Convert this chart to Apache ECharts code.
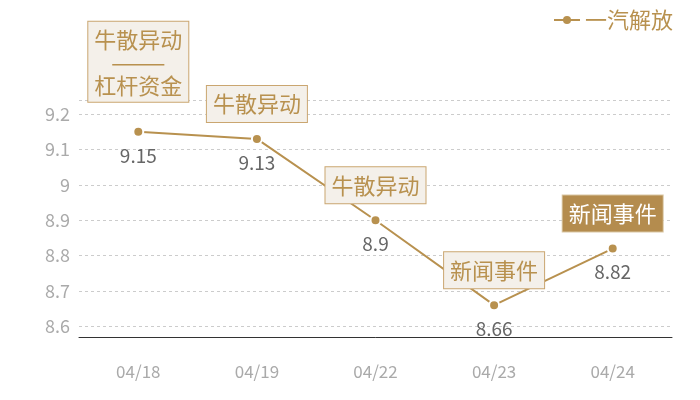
<!DOCTYPE html>
<html>
<head>
<meta charset="utf-8">
<script src="https://cdn.jsdelivr.net/npm/echarts@6/dist/echarts.min.js"></script>
<style>
  html, body { margin: 0; padding: 0; background: #fff; }
  #chart { width: 700px; height: 400px; }
</style>
</head>
<body>
<div id="chart"></div>
<script>
    // data
    var dates = ['04/18', '04/19', '04/22', '04/23', '04/24'];
    var prices = [9.15, 9.13, 8.9, 8.66, 8.82];
    var seriesName = '一汽解放';
    var eventTexts = ['牛散异动\n———\n杠杆资金', '牛散异动', '牛散异动', '新闻事件', '新闻事件'];
    var eventFilled = [false, false, false, false, true];

    var gold = '#b8914f';
    var fontFam = '"Noto Sans CJK SC", "Noto Sans", sans-serif';

    var marks = [];
    for (var i = 0; i < dates.length; i++) {
        var filled = eventFilled[i];
        marks.push({
            coord: [dates[i], prices[i]],
            label: {
                formatter: eventTexts[i],
                distance: i === 0 ? 30 : 17,
                lineHeight: i === 0 ? 23 : 28,
                padding: i === 0 ? [6, 6, 5, 6] : [4, 6, 4, 6],
                backgroundColor: filled ? '#b48c4e' : '#f4f0ea',
                borderColor: filled ? '#d9c6a3' : '#caa670',
                color: filled ? '#fff' : gold
            }
        });
    }

    var myChart = echarts.init(document.getElementById('chart'));
    var option = {
        textStyle: { fontFamily: fontFam },
        legend: {
            right: 22,
            top: 4,
            itemWidth: 26,
            itemHeight: 10,
            itemGap: 6,
            itemStyle: { borderWidth: 0 },
            textStyle: { color: gold, fontSize: 22, fontFamily: fontFam },
            data: [seriesName]
        },
        grid: { left: 79, right: 28, top: 100, bottom: 63 },
        xAxis: {
            type: 'category',
            data: dates,
            axisLine: { lineStyle: { color: '#333', width: 1 } },
            axisTick: { show: false },
            axisLabel: { color: '#aaa', fontSize: 17, margin: 26, fontFamily: fontFam }
        },
        yAxis: {
            type: 'value',
            min: 8.57,
            max: 9.24,
            axisLine: { show: false },
            axisTick: { show: false },
            axisLabel: {
                color: '#aaa', fontSize: 18, margin: 9, fontFamily: fontFam,
                showMinLabel: false, showMaxLabel: false
            },
            splitLine: { lineStyle: { color: '#ccc', type: [3, 3] } }
        },
        series: [{
            name: seriesName,
            type: 'line',
            data: prices,
            symbol: 'circle',
            symbolSize: 10,
            itemStyle: { color: gold, borderColor: '#fff', borderWidth: 2 },
            lineStyle: { color: gold, width: 2 },
            label: {
                show: true,
                position: 'bottom',
                distance: 8,
                color: '#666',
                fontSize: 19,
                fontFamily: fontFam
            },
            markPoint: {
                symbol: 'circle',
                symbolSize: 0,
                silent: true,
                label: {
                    show: true,
                    position: 'top',
                    fontSize: 22,
                    fontFamily: fontFam,
                    borderWidth: 1,
                    align: 'center'
                },
                data: marks
            }
        }]
    };
    myChart.setOption(option);
</script>
</body>
</html>
